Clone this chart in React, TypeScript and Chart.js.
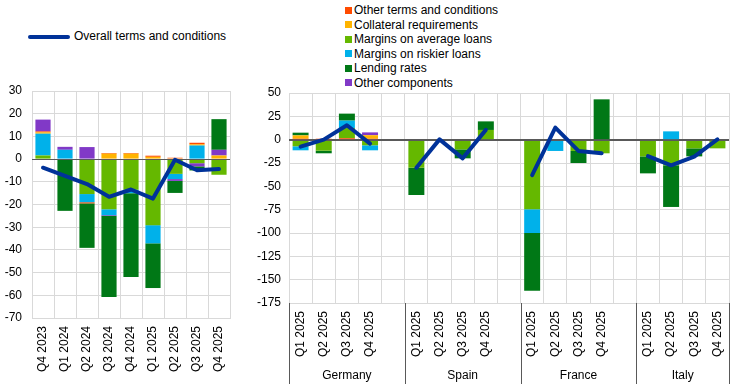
import React, { useEffect, useRef } from 'react';
import { Chart, registerables } from 'chart.js';

Chart.register(...registerables);

const FONT = "'Liberation Sans', Arial, sans-serif";

// ---------- Left chart data ----------
const leftLabels = ['Q4 2023', 'Q1 2024', 'Q2 2024', 'Q3 2024', 'Q4 2024', 'Q1 2025', 'Q2 2025', 'Q3 2025', 'Q4 2025'];
const leftAvg = [1.6, 0, -15.4, -22.1, -13.5, -29.1, -6.5, -1.8, -6.9];
const leftRisk = [9.6, 4.1, -3.6, -2.6, -1.5, -8.0, -2.3, 6.0, 0];
const leftColl = [0.6, 0, 0, 2.4, 2.4, 1.0, 0.3, 0.5, 1.6];
const leftOtherTerms = [0.4, 0, -0.5, 0.3, 0.3, 0.5, 0.3, 0.7, 0];
const leftOtherComp = [5.2, 1.3, 5.3, -0.3, 0, 0, -0.8, -1.4, 2.5];
const leftLending = [0, -22.8, -19.6, -35.7, -36.9, -19.7, -5.3, -1.8, 13.5];
const leftOverall = [-3.8, -7.4, -11.0, -16.6, -13.4, -17.4, -0.3, -4.9, -4.4];

// ---------- Right chart data ----------
const countries = ['Germany', 'Spain', 'France', 'Italy'];
const quarters = ['Q1 2025', 'Q2 2025', 'Q3 2025', 'Q4 2025'];
// values per country: Q1..Q4
const rOtherTerms = [[1, 1, 1.5, 1], [0, 0, 0, 0], [0, 0, 0, 0], [0, 0, 0, 0]];
const rColl = [[3.6, 0, 0, 3.8], [0, 0, 0, 0], [0, 0, 0, 0], [0, 0, 0, 0]];
const rAvg = [[-7.1, -11.8, 11, -6], [-30, 0, -10.4, 10.4], [-74.6, 0, -12.1, -14.6], [-17.9, -27.5, -9.3, -9.3]];
const rRisk = [[-4.3, 0, 7.9, -5.4], [0, 0, 0, 0], [-25.4, -12.1, 0, 0], [0, 8.9, 0, 0]];
const rLending = [[2.9, -2.8, 7.5, 0], [-29.3, 0, -9.6, 9.2], [-62, 0, -12.9, 43.2], [-18.2, -44.6, -8.6, 0]];
const rOtherComp = [[0, 0, 0, 3], [0, 0, 0, 0], [0, 0, 0, 0], [0, 0, 0, 0]];
const rOverall = [[-7.5, 0, 15.5, -4.2], [-30, 0.3, -20, 10.5], [-38, 12.9, -12.1, -14.6], [-17.7, -27.5, -18.2, 0.3]];

const COL = {
  otherTerms: '#FF4B00',
  coll: '#FFB400',
  avg: '#65B800',
  risk: '#00B1EA',
  lending: '#007816',
  otherComp: '#8139C7',
  overall: '#003299',
};

const legendItems = [
  { label: 'Other terms and conditions', color: COL.otherTerms },
  { label: 'Collateral requirements', color: COL.coll },
  { label: 'Margins on average loans', color: COL.avg },
  { label: 'Margins on riskier loans', color: COL.risk },
  { label: 'Lending rates', color: COL.lending },
  { label: 'Other components', color: COL.otherComp },
];

// flatten country groups into categories with a blank gap between groups
function flatten<T>(groups: T[][]): (T | null)[] {
  const out: (T | null)[] = [];
  groups.forEach((g, i) => {
    g.forEach((v) => out.push(v));
    if (i < groups.length - 1) out.push(null);
  });
  return out;
}
const rightLabels: string[] = flatten(countries.map(() => quarters)).map((v) => (v === null ? '' : v));

const bar = (label: string, data: (number | null)[], color: string) => ({
  type: 'bar' as const,
  label,
  data,
  backgroundColor: color,
  borderWidth: 0,
  order: 1,
  stack: 'bars',
  barPercentage: 0.69,
  categoryPercentage: 1,
});
const line = (data: (number | null)[]) => ({
  type: 'line' as const,
  label: 'Overall terms and conditions',
  data,
  borderColor: COL.overall,
  backgroundColor: COL.overall,
  borderWidth: 4,
  pointRadius: 0,
  order: 0,
  stack: 'line',
  fill: false,
  spanGaps: false,
  tension: 0,
  borderCapStyle: 'round' as const,
  borderJoinStyle: 'round' as const,
});

const zeroLinePlugin = {
  id: 'zeroLine',
  beforeDatasetDraw(chart: any, args: any) {
    const ds = chart.data.datasets[args.index];
    if (ds.type !== 'line') return;
    const { ctx, chartArea, scales } = chart;
    const y = Math.round(scales.y.getPixelForValue(0)) + 0.5;
    ctx.save();
    ctx.strokeStyle = '#595959';
    ctx.lineWidth = 1;
    ctx.beginPath();
    ctx.moveTo(chartArea.left, y);
    ctx.lineTo(chartArea.right, y);
    ctx.stroke();
    ctx.restore();
  },
};

const groupPlugin = {
  id: 'groups',
  afterDraw(chart: any) {
    const { ctx, chartArea, scales } = chart;
    const x = scales.x;
    const half = (x.getPixelForValue(1) - x.getPixelForValue(0)) / 2;
    const n = chart.data.labels.length;
    ctx.save();
    ctx.strokeStyle = '#595959';
    ctx.lineWidth = 1;
    const bounds: number[] = [];
    countries.forEach((_, i) => bounds.push(x.getPixelForValue(i * (quarters.length + 1)) - half));
    bounds.push(x.getPixelForValue(n - 1) + half);
    bounds.forEach((bx) => {
      const px = Math.round(bx) + 0.5;
      ctx.beginPath();
      ctx.moveTo(px, chartArea.bottom);
      ctx.lineTo(px, chart.height - 2);
      ctx.stroke();
    });
    ctx.fillStyle = '#000';
    ctx.font = `12px ${FONT}`;
    ctx.textAlign = 'center';
    ctx.textBaseline = 'middle';
    countries.forEach((c, i) => {
      const cx = (bounds[i] + bounds[i + 1]) / 2;
      ctx.fillText(c, cx, 296);
    });
    ctx.restore();
  },
};

const gridColor = (ctx: any) => (ctx.tick && ctx.tick.value === 0 ? '#595959' : '#d9d9d9');

function baseOptions(min: number, max: number, step: number, yWidth: number, xHeight: number, padTop: number, padRight: number, yPad: number, xPad: number) {
  return {
    responsive: false,
    animation: false as const,
    layout: { padding: { left: 0, top: padTop, right: padRight, bottom: 0 } },
    plugins: { legend: { display: false }, tooltip: { enabled: false } },
    scales: {
      x: {
        stacked: true,
        grid: { color: '#d9d9d9', drawTicks: false, offset: true },
        border: { color: '#d9d9d9' },
        ticks: {
          minRotation: 90,
          maxRotation: 90,
          autoSkip: false,
          padding: xPad,
          color: '#000',
          font: { family: FONT, size: 12 },
        },
        afterFit: (s: any) => {
          s.height = xHeight;
          s.paddingLeft = 0;
          s.paddingRight = 0;
        },
      },
      y: {
        stacked: true,
        min,
        max,
        grid: { color: gridColor, drawTicks: false },
        border: { display: false },
        ticks: { stepSize: step, padding: yPad, color: '#000', font: { family: FONT, size: 12 } },
        afterFit: (s: any) => {
          s.width = yWidth;
          s.paddingTop = 0;
          s.paddingBottom = 0;
        },
      },
    },
  };
}

function LeftChart() {
  const ref = useRef<HTMLCanvasElement>(null);
  useEffect(() => {
    const chart = new Chart(ref.current as HTMLCanvasElement, {
      type: 'bar',
      data: {
        labels: leftLabels,
        datasets: [
          bar('Margins on average loans', leftAvg, COL.avg),
          bar('Margins on riskier loans', leftRisk, COL.risk),
          bar('Collateral requirements', leftColl, COL.coll),
          bar('Other terms and conditions', leftOtherTerms, COL.otherTerms),
          bar('Other components', leftOtherComp, COL.otherComp),
          bar('Lending rates', leftLending, COL.lending),
          line(leftOverall),
        ] as any,
      },
      options: baseOptions(-70, 30, 10, 32, 68, 11, 15, 10, 8) as any,
      plugins: [zeroLinePlugin],
    });
    return () => chart.destroy();
  }, []);
  return <canvas ref={ref} width={245} height={306} style={{ position: 'absolute', left: 0, top: 80, width: 245, height: 306 }} />;
}

function RightChart() {
  const ref = useRef<HTMLCanvasElement>(null);
  useEffect(() => {
    const chart = new Chart(ref.current as HTMLCanvasElement, {
      type: 'bar',
      data: {
        labels: rightLabels,
        datasets: [
          bar('Other terms and conditions', flatten(rOtherTerms), COL.otherTerms),
          bar('Collateral requirements', flatten(rColl), COL.coll),
          bar('Margins on average loans', flatten(rAvg), COL.avg),
          bar('Margins on riskier loans', flatten(rRisk), COL.risk),
          bar('Lending rates', flatten(rLending), COL.lending),
          bar('Other components', flatten(rOtherComp), COL.otherComp),
          line(flatten(rOverall)),
        ] as any,
      },
      options: baseOptions(-175, 50, 25, 39, 83, 13, 16, 8, 8) as any,
      plugins: [zeroLinePlugin, groupPlugin],
    });
    return () => chart.destroy();
  }, []);
  return <canvas ref={ref} width={495} height={306} style={{ position: 'absolute', left: 250, top: 80, width: 495, height: 306 }} />;
}

export default function App() {
  const text: React.CSSProperties = {
    position: 'absolute',
    font: `12px ${FONT}`,
    lineHeight: '14px',
    color: '#000',
    whiteSpace: 'nowrap',
  };
  return (
    <div style={{ position: 'fixed', left: 0, top: 0, width: 745, height: 386, background: '#fff', overflow: 'hidden' }}>
      <div style={{ position: 'absolute', left: 28, top: 35, width: 42, height: 4, background: COL.overall, borderRadius: 2 }} />
      <div style={{ ...text, left: 74, top: 29 }}>Overall terms and conditions</div>
      {legendItems.map((it, i) => (
        <React.Fragment key={it.label}>
          <div style={{ position: 'absolute', left: 345, top: 10 + 14.5 * i - 3.5, width: 7, height: 7, background: it.color }} />
          <div style={{ ...text, left: 354, top: 10 + 14.5 * i - 7 }}>{it.label}</div>
        </React.Fragment>
      ))}
      <LeftChart />
      <RightChart />
    </div>
  );
}
